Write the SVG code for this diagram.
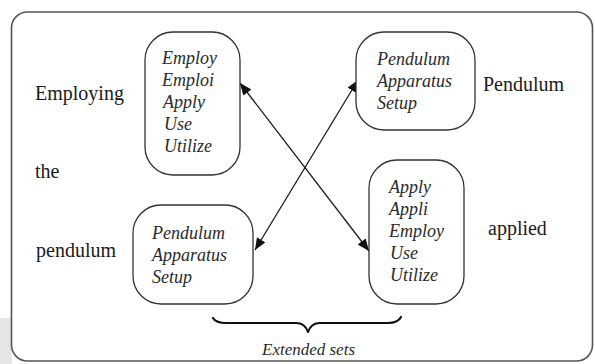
<svg xmlns="http://www.w3.org/2000/svg" width="595" height="364" viewBox="0 0 595 364">
  <style>
    .frame { fill: #ffffff; stroke: #555555; stroke-width: 1.6; }
    .node { fill: #ffffff; stroke: #333333; stroke-width: 1.3; }
    .item { font-family: "Liberation Serif", "DejaVu Serif", serif; font-style: italic; font-size: 18px; fill: #2a2a2a; }
    .label { font-family: "Liberation Serif", "DejaVu Serif", serif; font-size: 20px; fill: #1a1a1a; }
    .caption { font-family: "Liberation Serif", "DejaVu Serif", serif; font-style: italic; font-size: 17px; fill: #2a2a2a; }
    .link { stroke: #1a1a1a; stroke-width: 1.3; fill: none; marker-start: url(#head); marker-end: url(#head); }
    .brace { stroke: #111111; stroke-width: 2.2; fill: none; stroke-linecap: round; stroke-linejoin: round; }
  </style>
  <defs>
    <marker id="head" viewBox="0 0 12 10" refX="12" refY="5" markerWidth="12" markerHeight="10" markerUnits="userSpaceOnUse" orient="auto-start-reverse">
      <path d="M0,0 L12,5 L0,10 Z" fill="#111111"/>
    </marker>
  </defs>

  <rect width="595" height="364" fill="#ffffff"/>
  <rect x="0" y="318" width="12" height="46" fill="#e6e6e6"/>

  <!-- outer frame -->
  <rect class="frame" x="11.5" y="12" width="581" height="349" rx="16" ry="16"/>

  <!-- side labels -->
  <g id="labels">
    <text class="label" x="35" y="100">Employing</text>
    <text class="label" x="35" y="178">the</text>
    <text class="label" x="36" y="257">pendulum</text>
    <text class="label" x="483" y="91">Pendulum</text>
    <text class="label" x="488" y="235">applied</text>
  </g>

  <!-- connectors -->
  <g id="connectors">
    <line class="link" x1="240" y1="83" x2="369" y2="251"/>
    <line class="link" x1="358" y1="80" x2="255" y2="250"/>
    <path class="brace" d="M213,318 Q216,323 226,323 L296,323 Q305,323 308,332 Q311,323 320,323 L388,323 Q398,323 401,317"/>
  </g>

  <g id="node-employ">
    <rect class="node" x="145" y="32" width="95" height="143" rx="28" ry="28"/>
    <text class="item" x="162" y="64">Employ</text>
    <text class="item" x="162" y="86">Emploi</text>
    <text class="item" x="163" y="108">Apply</text>
    <text class="item" x="164" y="130">Use</text>
    <text class="item" x="164" y="152">Utilize</text>
  </g>

  <g id="node-pendulum-top">
    <rect class="node" x="356" y="32" width="119" height="98" rx="28" ry="28"/>
    <text class="item" x="377" y="65">Pendulum</text>
    <text class="item" x="377" y="87">Apparatus</text>
    <text class="item" x="377" y="109">Setup</text>
  </g>

  <g id="node-pendulum-bottom">
    <rect class="node" x="133" y="205" width="120" height="99" rx="28" ry="28"/>
    <text class="item" x="152" y="239">Pendulum</text>
    <text class="item" x="152" y="261">Apparatus</text>
    <text class="item" x="152" y="283">Setup</text>
  </g>

  <g id="node-apply">
    <rect class="node" x="369" y="160" width="95" height="144" rx="28" ry="28"/>
    <text class="item" x="389" y="193">Apply</text>
    <text class="item" x="389" y="215">Appli</text>
    <text class="item" x="389" y="237">Employ</text>
    <text class="item" x="390" y="259">Use</text>
    <text class="item" x="390" y="281">Utilize</text>
  </g>

  <text class="caption" x="262" y="355">Extended sets</text>
</svg>
